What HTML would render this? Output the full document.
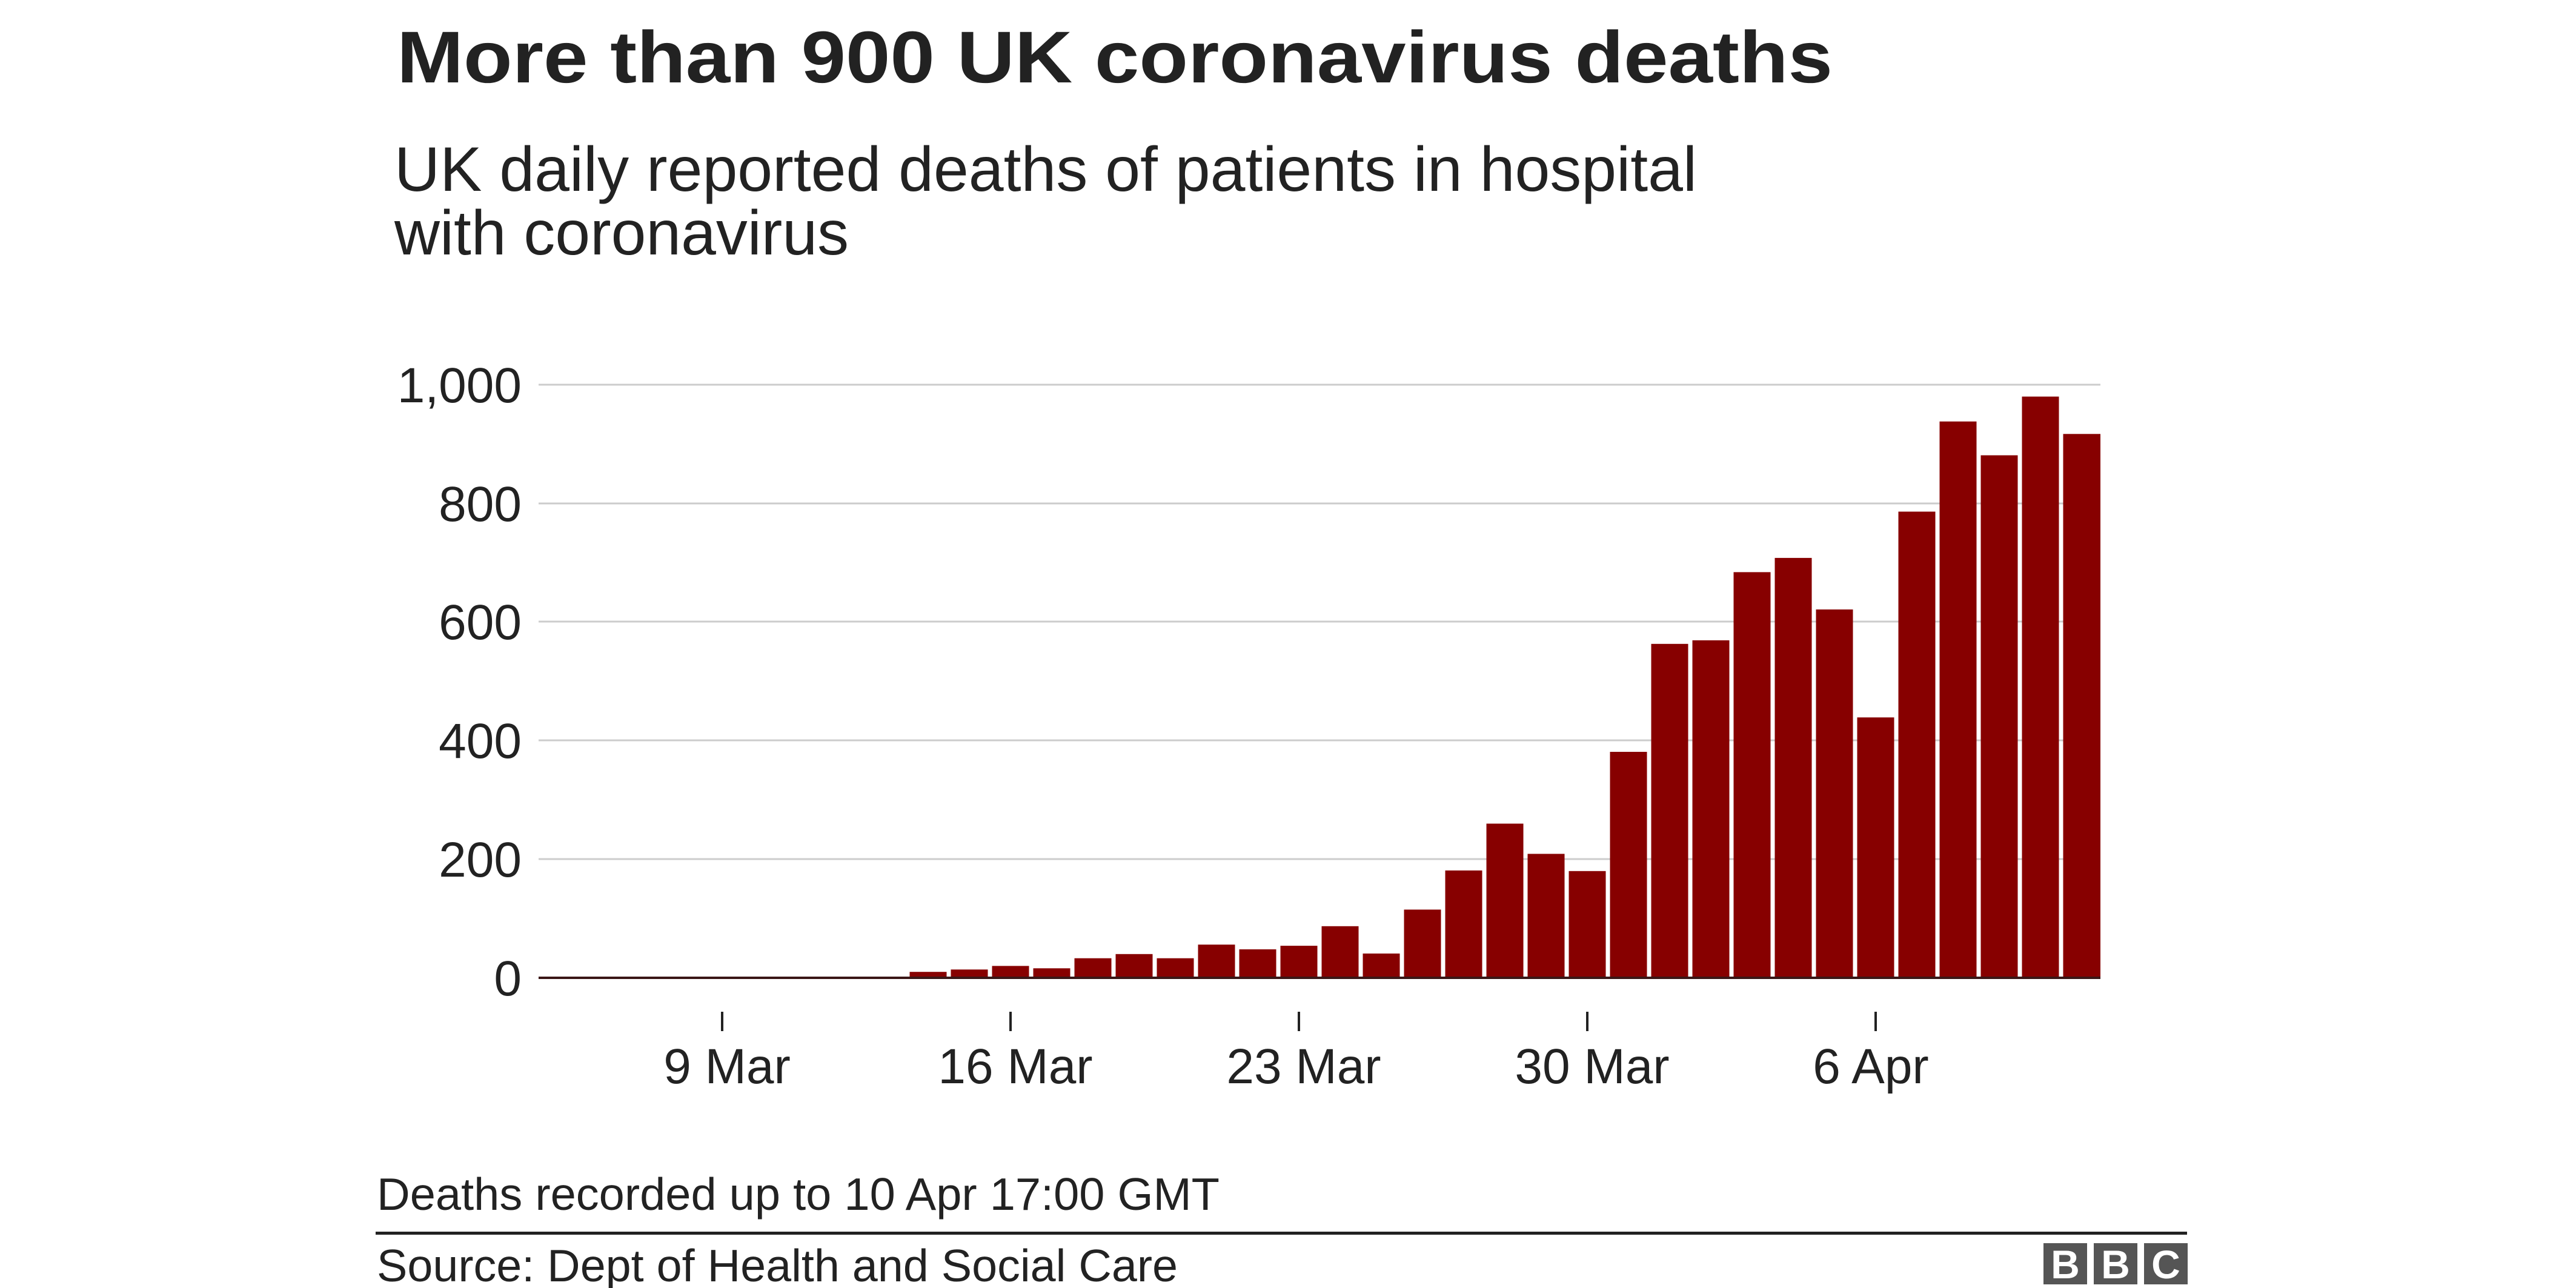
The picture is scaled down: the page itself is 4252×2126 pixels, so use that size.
<!DOCTYPE html>
<html><head><meta charset="utf-8"><style>
html,body{margin:0;padding:0;background:#fff;}
svg{display:block;}
text{font-family:"Liberation Sans",Arial,sans-serif;fill:#222;}
</style></head><body>
<svg width="4252" height="2126" viewBox="0 0 4252 2126" xmlns="http://www.w3.org/2000/svg">
<rect width="4252" height="2126" fill="#fff"/>
<text x="655" y="136" font-size="121" font-weight="bold" textLength="2370" lengthAdjust="spacingAndGlyphs">More than 900 UK coronavirus deaths</text>
<text x="651" y="315" font-size="104" textLength="2150" lengthAdjust="spacingAndGlyphs">UK daily reported deaths of patients in hospital</text>
<text x="651" y="420" font-size="104" textLength="750" lengthAdjust="spacingAndGlyphs">with coronavirus</text>
<g stroke="#cccccc" stroke-width="3">
<line x1="889" y1="635" x2="3467" y2="635"/>
<line x1="889" y1="831" x2="3467" y2="831"/>
<line x1="889" y1="1026" x2="3467" y2="1026"/>
<line x1="889" y1="1222" x2="3467" y2="1222"/>
<line x1="889" y1="1418" x2="3467" y2="1418"/>
</g>
<g font-size="82" text-anchor="end">
<text x="861" y="664">1,000</text>
<text x="861" y="860">800</text>
<text x="861" y="1055">600</text>
<text x="861" y="1251">400</text>
<text x="861" y="1447">200</text>
<text x="861" y="1643">0</text>
</g>
<g fill="#870000">
<rect x="1501.5" y="1604.2" width="61" height="9.8"/>
<rect x="1569.5" y="1600.3" width="61" height="13.7"/>
<rect x="1637.5" y="1594.4" width="61" height="19.6"/>
<rect x="1705.5" y="1598.3" width="61" height="15.7"/>
<rect x="1773.5" y="1581.7" width="61" height="32.3"/>
<rect x="1841.5" y="1574.8" width="61" height="39.2"/>
<rect x="1909.5" y="1581.7" width="61" height="32.3"/>
<rect x="1977.5" y="1559.2" width="61" height="54.8"/>
<rect x="2045.5" y="1567.0" width="61" height="47.0"/>
<rect x="2113.5" y="1561.1" width="61" height="52.9"/>
<rect x="2181.5" y="1528.8" width="61" height="85.2"/>
<rect x="2249.5" y="1573.9" width="61" height="40.1"/>
<rect x="2317.5" y="1501.4" width="61" height="112.6"/>
<rect x="2385.5" y="1436.8" width="61" height="177.2"/>
<rect x="2453.5" y="1359.5" width="61" height="254.5"/>
<rect x="2521.5" y="1409.4" width="61" height="204.6"/>
<rect x="2589.5" y="1437.8" width="61" height="176.2"/>
<rect x="2657.5" y="1241.0" width="61" height="373.0"/>
<rect x="2725.5" y="1062.8" width="61" height="551.2"/>
<rect x="2793.5" y="1056.9" width="61" height="557.1"/>
<rect x="2861.5" y="944.4" width="61" height="669.6"/>
<rect x="2929.5" y="920.9" width="61" height="693.1"/>
<rect x="2997.5" y="1006.0" width="61" height="608.0"/>
<rect x="3065.5" y="1184.2" width="61" height="429.8"/>
<rect x="3133.5" y="844.5" width="61" height="769.5"/>
<rect x="3201.5" y="695.7" width="61" height="918.3"/>
<rect x="3269.5" y="751.5" width="61" height="862.5"/>
<rect x="3337.5" y="654.6" width="61" height="959.4"/>
<rect x="3405.5" y="716.3" width="61.5" height="897.7"/>
</g>
<line x1="889" y1="1614" x2="3467" y2="1614" stroke="#3a1616" stroke-width="4"/>
<g stroke="#222" stroke-width="4">
<line x1="1192" y1="1670" x2="1192" y2="1702"/>
<line x1="1668" y1="1670" x2="1668" y2="1702"/>
<line x1="2144" y1="1670" x2="2144" y2="1702"/>
<line x1="2620" y1="1670" x2="2620" y2="1702"/>
<line x1="3096" y1="1670" x2="3096" y2="1702"/>
</g>
<g font-size="82" text-anchor="middle">
<text x="1200" y="1788">9 Mar</text>
<text x="1676" y="1788">16 Mar</text>
<text x="2152" y="1788">23 Mar</text>
<text x="2628" y="1788">30 Mar</text>
<text x="3088" y="1788">6 Apr</text>
</g>
<text x="622" y="1997" font-size="75" textLength="1391" lengthAdjust="spacingAndGlyphs">Deaths recorded up to 10 Apr 17:00 GMT</text>
<rect x="620" y="2033" width="2990" height="5" fill="#222"/>
<text x="622" y="2115" font-size="75" textLength="1322" lengthAdjust="spacingAndGlyphs">Source: Dept of Health and Social Care</text>
<g fill="#555">
<rect x="3373" y="2052" width="72" height="68"/>
<rect x="3456" y="2052" width="72" height="68"/>
<rect x="3539" y="2052" width="72" height="68"/>
</g>
<g font-size="66" font-weight="bold" text-anchor="middle" style="fill:#fff">
<text x="3409" y="2110" style="fill:#fff">B</text>
<text x="3492" y="2110" style="fill:#fff">B</text>
<text x="3575" y="2110" style="fill:#fff">C</text>
</g>
</svg>
</body></html>
